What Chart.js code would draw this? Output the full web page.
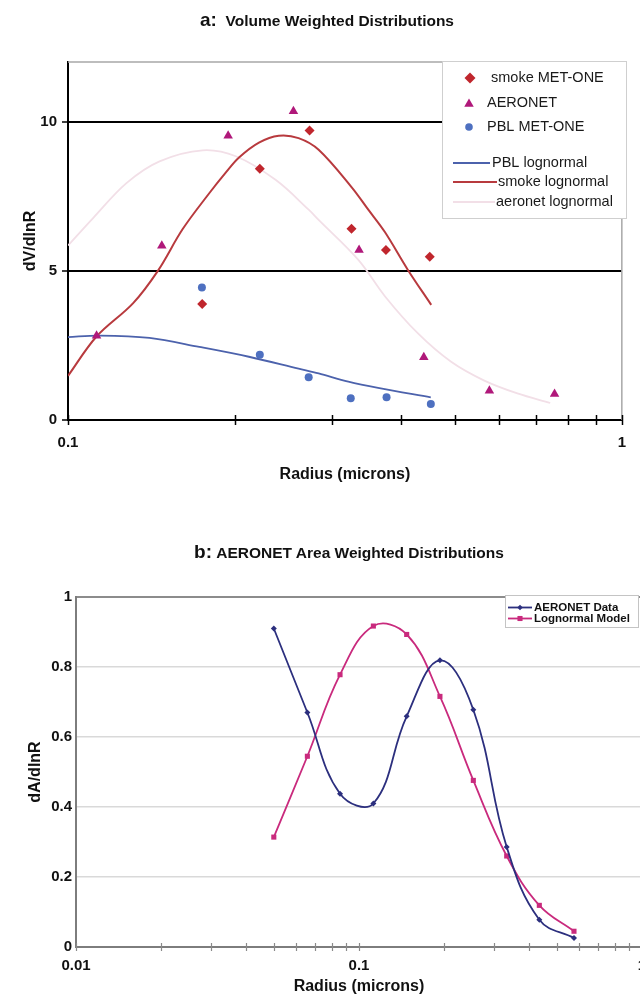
<!DOCTYPE html>
<html><head><meta charset="utf-8">
<script src="https://cdn.jsdelivr.net/npm/chart.js@4.4.1/dist/chart.umd.min.js"></script>
<style>
html,body{margin:0;padding:0;background:#fff;overflow:hidden;}
body{width:640px;height:1003px;position:relative;font-family:"Liberation Sans",Arial,sans-serif;}
.title{position:absolute;left:0;text-align:center;font-weight:bold;color:#111;white-space:nowrap;z-index:2;font-size:15.5px;line-height:24px;}
.title .p{font-size:19px;}
#c1{position:absolute;left:0;top:0;}
#c2{position:absolute;left:0;top:500px;}
</style></head><body>
<canvas id="c1" width="640" height="500"></canvas>
<canvas id="c2" width="660" height="503"></canvas>
<div class="title" style="top:8px;width:654px;"><span class="p">a:</span>&nbsp; Volume Weighted Distributions</div>
<div class="title" style="top:540px;width:698px;"><span class="p">b:</span>&nbsp;AERONET Area Weighted Distributions</div>
<script>
// ---------- Chart a data ----------
const smokeMetOneR = [0.1747, 0.222, 0.273, 0.325, 0.375, 0.450];
const smokeMetOneV = [3.89, 8.42, 9.70, 6.41, 5.70, 5.47];
const aeronetR = [0.1126, 0.1477, 0.1946, 0.2553, 0.3354, 0.439, 0.5766, 0.756];
const aeronetV = [2.82, 5.84, 9.53, 10.35, 5.70, 2.10, 0.98, 0.87];
const pblMetOneR = [0.1745, 0.222, 0.272, 0.324, 0.376, 0.452];
const pblMetOneV = [4.44, 2.19, 1.43, 0.73, 0.76, 0.54];
const pblLogR = [0.1, 0.1141, 0.1403, 0.1726, 0.2121, 0.2608, 0.2835, 0.3207, 0.3630, 0.4519];
const pblLogV = [2.78, 2.83, 2.75, 2.45, 2.12, 1.72, 1.56, 1.29, 1.08, 0.76];
const smokeLogR = [0.1, 0.1126, 0.1310, 0.1453, 0.1611, 0.1799, 0.1928, 0.2036, 0.2212, 0.2402, 0.2608, 0.2835, 0.3253, 0.3485, 0.3734, 0.4109, 0.4527];
const smokeLogV = [1.48, 2.8, 3.91, 5.0, 6.4, 7.6, 8.3, 8.8, 9.3, 9.53, 9.45, 9.06, 7.8, 7.05, 6.3, 5.03, 3.86];
const aeroLogR = [0.1, 0.1110, 0.1275, 0.1463, 0.1750, 0.2009, 0.2370, 0.2720, 0.2835, 0.3344, 0.3734, 0.4285, 0.4918, 0.5645, 0.6478, 0.7425];
const aeroLogV = [5.85, 6.77, 7.94, 8.67, 9.04, 8.84, 8.05, 7.05, 6.71, 5.37, 4.15, 2.9, 1.95, 1.32, 0.89, 0.57];
const yTicksA = [0, 5, 10];
const xTicksA = [0.1, 0.2, 0.3, 0.4, 0.5, 0.6, 0.7, 0.8, 0.9, 1];

// ---------- Chart b data ----------
const radiiB = [0.05, 0.0657, 0.0857, 0.1124, 0.1474, 0.1932, 0.2535, 0.3326, 0.4337, 0.575];
const aeronetDataB = [0.910, 0.670, 0.438, 0.410, 0.659, 0.819, 0.678, 0.286, 0.078, 0.026];
const lognormalModelB = [0.314, 0.545, 0.778, 0.917, 0.893, 0.716, 0.476, 0.260, 0.119, 0.045];
const yTicksB = [0, 0.2, 0.4, 0.6, 0.8, 1];
const xTicksB = [0.01, 0.02, 0.03, 0.04, 0.05, 0.06, 0.07, 0.08, 0.09, 0.1, 0.2, 0.3, 0.4, 0.5, 0.6, 0.7, 0.8, 0.9, 1];

const FONT = '"Liberation Sans", Arial, sans-serif';
Chart.defaults.font.family = FONT;
Chart.defaults.color = '#111';

const C = {
  smoke: '#C0262D', aero: '#B0187A', pbl: '#4E70C0',
  pblLine: '#4C62AC', smokeLine: '#B83A3E', aeroLine: '#F2DFE7',
  bData: '#2C2F7E', bModel: '#C92A7D'
};

function pts(xs, ys) { return xs.map((x, i) => ({ x: x, y: ys[i] })); }

function drawMarker(ctx, style, x, y, r, color) {
  ctx.save();
  ctx.fillStyle = color;
  ctx.beginPath();
  if (style === 'rectRot') {
    ctx.moveTo(x, y - r); ctx.lineTo(x + r, y); ctx.lineTo(x, y + r); ctx.lineTo(x - r, y); ctx.closePath();
  } else if (style === 'triangle') {
    ctx.moveTo(x, y - r); ctx.lineTo(x + r * 0.866, y + r * 0.5); ctx.lineTo(x - r * 0.866, y + r * 0.5); ctx.closePath();
  } else if (style === 'rect') {
    const s = r * Math.SQRT1_2; ctx.rect(x - s, y - s, 2 * s, 2 * s);
  } else {
    ctx.arc(x, y, r, 0, Math.PI * 2);
  }
  ctx.fill();
  ctx.restore();
}

function decadeLabel(v) {
  const l = Math.log10(v);
  return Math.abs(l - Math.round(l)) < 1e-6 ? String(+(+v).toPrecision(1)) : '';
}
function plainLabel(v) { return String(+(+v).toFixed(2)); }

const tickFont = { size: 15, weight: 'bold' };
const titleFont = { size: 16, weight: 'bold' };

// ---------- Chart a ----------
const plugA = {
  id: 'plugA',
  beforeDatasetsDraw(chart) {
    const { ctx, chartArea: a } = chart;
    ctx.save();
    ctx.strokeStyle = '#a8a8a8'; ctx.lineWidth = 1.5;
    ctx.beginPath(); ctx.moveTo(a.left, a.top); ctx.lineTo(a.right, a.top); ctx.lineTo(a.right, a.bottom); ctx.stroke();
    const xs = chart.scales.x;
    ctx.strokeStyle = '#000'; ctx.lineWidth = 1.5;
    xs.ticks.forEach(t => {
      const px = Math.round(xs.getPixelForValue(t.value)) + 0.5;
      ctx.beginPath(); ctx.moveTo(px, a.bottom - 5); ctx.lineTo(px, a.bottom + 5); ctx.stroke();
    });
    ctx.restore();
  },
  afterDraw(chart) {
    const ctx = chart.ctx;
    ctx.save();
    ctx.fillStyle = '#fff'; ctx.strokeStyle = '#cfcfcf'; ctx.lineWidth = 1;
    ctx.fillRect(442, 61, 184, 157);
    ctx.strokeRect(442.5, 61.5, 184, 157);
    ctx.font = '14.5px ' + FONT; ctx.fillStyle = '#1a1a1a'; ctx.textBaseline = 'middle'; ctx.textAlign = 'left';
    drawMarker(ctx, 'rectRot', 470, 78, 5.5, C.smoke);
    ctx.fillText('smoke MET-ONE', 491, 78);
    drawMarker(ctx, 'triangle', 469, 104, 5.5, C.aero);
    ctx.fillText('AERONET', 487, 103);
    drawMarker(ctx, 'circle', 469, 127, 3.8, C.pbl);
    ctx.fillText('PBL MET-ONE', 487, 127);
    const lines = [
      [C.pblLine, 1.8, 453, 490, 163, 'PBL lognormal', 492],
      [C.smokeLine, 2, 453, 497, 182, 'smoke lognormal', 498],
      [C.aeroLine, 1.8, 453, 495, 202, 'aeronet lognormal', 496]
    ];
    lines.forEach(l => {
      ctx.strokeStyle = l[0]; ctx.lineWidth = l[1];
      ctx.beginPath(); ctx.moveTo(l[2], l[4]); ctx.lineTo(l[3], l[4]); ctx.stroke();
      ctx.fillStyle = '#1a1a1a';
      ctx.fillText(l[5], l[6], l[4]);
    });
    ctx.restore();
  }
};

new Chart(document.getElementById('c1'), {
  type: 'scatter',
  data: {
    datasets: [
      { label: 'smoke MET-ONE', data: pts(smokeMetOneR, smokeMetOneV), pointStyle: 'rectRot', pointRadius: 5, backgroundColor: C.smoke, borderColor: C.smoke, borderWidth: 0, showLine: false },
      { label: 'AERONET', data: pts(aeronetR, aeronetV), pointStyle: 'triangle', pointRadius: 5.5, backgroundColor: C.aero, borderColor: C.aero, borderWidth: 0, showLine: false },
      { label: 'PBL MET-ONE', data: pts(pblMetOneR, pblMetOneV), pointStyle: 'circle', pointRadius: 4, backgroundColor: C.pbl, borderColor: C.pbl, borderWidth: 0, showLine: false },
      { label: 'PBL lognormal', data: pts(pblLogR, pblLogV), showLine: true, pointRadius: 0, borderColor: C.pblLine, borderWidth: 1.8, tension: 0.35 },
      { label: 'smoke lognormal', data: pts(smokeLogR, smokeLogV), showLine: true, pointRadius: 0, borderColor: C.smokeLine, borderWidth: 2, tension: 0.35 },
      { label: 'aeronet lognormal', data: pts(aeroLogR, aeroLogV), showLine: true, pointRadius: 0, borderColor: C.aeroLine, borderWidth: 1.8, tension: 0.35 }
    ]
  },
  options: {
    responsive: false, animation: false, events: [],
    layout: { padding: { left: 0, right: 12, top: 62, bottom: 0 } },
    plugins: { legend: { display: false }, tooltip: { enabled: false } },
    scales: {
      x: {
        type: 'logarithmic', min: 0.1, max: 1, position: 'bottom',
        afterBuildTicks: s => { s.ticks = xTicksA.map(v => ({ value: v })); },
        grid: { display: true, drawOnChartArea: false, drawTicks: false },
        border: { display: true, color: '#000', width: 2 },
        ticks: { autoSkip: false, maxRotation: 0, padding: 14, font: tickFont, color: '#111', callback: decadeLabel },
        title: { display: true, text: 'Radius (microns)', font: titleFont, color: '#111', padding: { top: 0, bottom: 15.4 } },
        afterFit: s => { s.height = 80; }
      },
      y: {
        min: 0, max: 12, position: 'left',
        afterBuildTicks: s => { s.ticks = yTicksA.map(v => ({ value: v })); },
        ticks: { padding: 5, font: tickFont, color: '#111', callback: plainLabel },
        grid: {
          color: c => (c.tick && (c.tick.value === 5 || c.tick.value === 10)) ? '#000' : 'rgba(0,0,0,0)',
          lineWidth: 2, tickLength: 6, tickColor: '#000', tickWidth: 1.5, drawTicks: true
        },
        border: { display: true, color: '#000', width: 2 },
        title: { display: true, text: 'dV/dlnR', font: titleFont, color: '#111', padding: { top: 21, bottom: 0 } },
        afterFit: s => { s.width = 68; }
      }
    }
  },
  plugins: [plugA]
});

// ---------- Chart b ----------
const plugB = {
  id: 'plugB',
  beforeDatasetsDraw(chart) {
    const { ctx, chartArea: a } = chart;
    ctx.save();
    const xs = chart.scales.x;
    ctx.strokeStyle = '#8a8a8a'; ctx.lineWidth = 1.2;
    xs.ticks.forEach(t => {
      const px = Math.round(xs.getPixelForValue(t.value)) + 0.5;
      ctx.beginPath(); ctx.moveTo(px, a.bottom - 4); ctx.lineTo(px, a.bottom + 4); ctx.stroke();
    });
    ctx.restore();
  },
  afterDraw(chart) {
    const ctx = chart.ctx;
    ctx.save();
    ctx.fillStyle = '#fff'; ctx.strokeStyle = '#c4c4c4'; ctx.lineWidth = 1;
    ctx.fillRect(505, 95, 133, 32);
    ctx.strokeRect(505.5, 95.5, 133, 32);
    ctx.font = 'bold 11.5px ' + FONT; ctx.textBaseline = 'middle'; ctx.textAlign = 'left';
    const items = [
      [C.bData, 'rectRot', 2.8, 'AERONET Data', 107.5],
      [C.bModel, 'rect', 3.6, 'Lognormal Model', 118.5]
    ];
    items.forEach(it => {
      ctx.strokeStyle = it[0]; ctx.lineWidth = 1.8;
      ctx.beginPath(); ctx.moveTo(508, it[4]); ctx.lineTo(532, it[4]); ctx.stroke();
      drawMarker(ctx, it[1], 520, it[4], it[2], it[0]);
      ctx.fillStyle = '#111';
      ctx.fillText(it[3], 534, it[4]);
    });
    ctx.restore();
  }
};

new Chart(document.getElementById('c2'), {
  type: 'scatter',
  data: {
    datasets: [
      { label: 'AERONET Data', data: pts(radiiB, aeronetDataB), showLine: true, tension: 0.4, borderColor: C.bData, borderWidth: 1.8, pointStyle: 'rectRot', pointRadius: 3, backgroundColor: C.bData, pointBorderWidth: 0 },
      { label: 'Lognormal Model', data: pts(radiiB, lognormalModelB), showLine: true, tension: 0.4, borderColor: C.bModel, borderWidth: 1.8, pointStyle: 'rect', pointRadius: 3.6, backgroundColor: C.bModel, pointBorderWidth: 0 }
    ]
  },
  options: {
    responsive: false, animation: false, events: [],
    layout: { padding: { left: 0, right: 18, top: 97, bottom: 0 } },
    plugins: { legend: { display: false }, tooltip: { enabled: false } },
    scales: {
      x: {
        type: 'logarithmic', min: 0.01, max: 1, position: 'bottom',
        afterBuildTicks: s => { s.ticks = xTicksB.map(v => ({ value: v })); },
        grid: { display: true, drawOnChartArea: false, drawTicks: false },
        border: { display: true, color: '#7d7d7d', width: 2 },
        ticks: { autoSkip: false, maxRotation: 0, padding: 10, font: tickFont, color: '#111', callback: decadeLabel },
        title: { display: true, text: 'Radius (microns)', font: titleFont, color: '#111', padding: { top: 0, bottom: 6.4 } },
        afterFit: s => { s.height = 56; }
      },
      y: {
        min: 0, max: 1, position: 'left',
        afterBuildTicks: s => { s.ticks = yTicksB.map(v => ({ value: v })); },
        ticks: { padding: 4, font: tickFont, color: '#111', callback: plainLabel },
        grid: {
          color: c => {
            const v = c.tick ? c.tick.value : 0;
            if (Math.abs(v) < 1e-6) return 'rgba(0,0,0,0)';
            if (Math.abs(v - 1) < 1e-6) return '#8c8c8c';
            return '#d9d9d9';
          },
          lineWidth: c => (c.tick && Math.abs(c.tick.value - 1) < 1e-6) ? 2 : 1.5,
          drawTicks: false
        },
        border: { display: true, color: '#7d7d7d', width: 2 },
        title: { display: true, text: 'dA/dlnR', font: titleFont, color: '#111', padding: { top: 26, bottom: 0 } },
        afterFit: s => { s.width = 76; }
      }
    }
  },
  plugins: [plugB]
});
</script>
</body></html>
